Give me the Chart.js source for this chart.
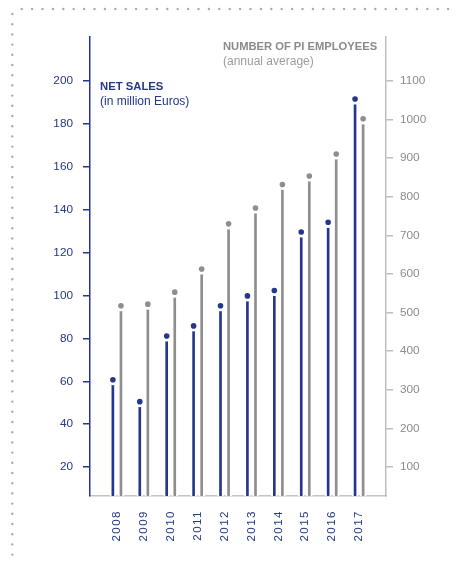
<!DOCTYPE html>
<html>
<head>
<meta charset="utf-8">
<style>
html,body{margin:0;padding:0;background:#fff;}
canvas{display:block;}
</style>
<script src="https://cdn.jsdelivr.net/npm/chart.js@4.4.1/dist/chart.umd.min.js"></script>
</head>
<body>
<canvas id="c" width="458" height="562"></canvas>
<script>
// ---- data ----
const years = ['2008','2009','2010','2011','2012','2013','2014','2015','2016','2017'];
const netSales = [60.7, 50.5, 81.1, 85.8, 95.2, 99.8, 102.3, 129.6, 134.1, 191.6];
const employees = [518, 522, 553, 613, 730, 771, 832, 854, 911, 1002];
const salesTicks = [20, 40, 60, 80, 100, 120, 140, 160, 180, 200];
const employeeTicks = [100, 200, 300, 400, 500, 600, 700, 800, 900, 1000, 1100];
const salesTitle = 'NET SALES';
const salesSubtitle = '(in million Euros)';
const empTitle = 'NUMBER OF PI EMPLOYEES';
const empSubtitle = '(annual average)';

// ---- style ----
const NAVY = '#24378a';
const GRAY = '#8e8e8e';
const LIGHT = '#c4c4c4';
const FONT = "'Liberation Sans', Arial, sans-serif";
const OFF = 0.15;

function stems(vals, sign, axis, color) {
  return {
    type: 'bar', yAxisID: axis, order: 3,
    data: vals.map((v, i) => ({x: i + sign * OFF, y: v})),
    backgroundColor: color, borderColor: '#ffffff',
    borderWidth: {left: 2, right: 2, top: 0, bottom: 0},
    borderSkipped: false, barThickness: 6, grouped: false
  };
}
function dots(vals, sign, axis, color) {
  return {
    type: 'scatter', yAxisID: axis, order: 1, showLine: false,
    data: vals.map((v, i) => ({x: i + sign * OFF, y: v})),
    pointBackgroundColor: color, pointBorderColor: '#ffffff',
    pointRadius: 4.2, pointBorderWidth: 2.8, pointHoverRadius: 4.2
  };
}

const decor = {
  id: 'decor',
  beforeDraw(chart) {
    const ctx = chart.ctx;
    ctx.save();
    ctx.strokeStyle = '#ababab';
    ctx.lineWidth = 2.4;
    ctx.lineCap = 'round';
    ctx.setLineDash([0, 10.4]);
    ctx.beginPath(); ctx.moveTo(21.7, 9); ctx.lineTo(458, 9); ctx.stroke();
    ctx.setLineDash([0, 10.2]);
    ctx.beginPath(); ctx.moveTo(12.3, 14); ctx.lineTo(12.3, 562); ctx.stroke();
    ctx.restore();
  },
  afterDatasetsDraw(chart) {
    // letter spacing for the year labels (x axis labels are drawn after this hook)
    chart.ctx.letterSpacing = '1.5px';
  },
  afterDraw(chart) {
    const ctx = chart.ctx;
    ctx.letterSpacing = '0px';
    ctx.save();
    ctx.textAlign = 'left';
    ctx.textBaseline = 'middle';
    ctx.fillStyle = NAVY;
    ctx.font = "bold 11.3px " + FONT;
    ctx.fillText(salesTitle, 100, 87);
    ctx.font = "12px " + FONT;
    ctx.fillText(salesSubtitle, 100, 102);
    ctx.fillStyle = '#8a8a8a';
    ctx.font = "bold 11.2px " + FONT;
    ctx.fillText(empTitle, 223, 47);
    ctx.fillStyle = '#9c9c9c';
    ctx.font = "12px " + FONT;
    ctx.fillText(empSubtitle, 223, 62);
    ctx.restore();
  }
};

new Chart(document.getElementById('c'), {
  type: 'bar',
  data: {
    datasets: [
      stems(netSales, -1, 'y', NAVY),
      stems(employees, 1, 'y1', GRAY),
      dots(netSales, -1, 'y', NAVY),
      dots(employees, 1, 'y1', GRAY)
    ]
  },
  options: {
    responsive: false,
    animation: false,
    devicePixelRatio: 1,
    layout: {padding: {top: 37, left: 0, right: 0, bottom: 0}},
    plugins: {legend: {display: false}, tooltip: {enabled: false}},
    scales: {
      x: {
        type: 'linear', min: -1, max: 10, offset: false,
        afterFit: s => { s.height = 66; },
        afterBuildTicks: s => { s.ticks = years.map((_, i) => ({value: i})); },
        grid: {display: false, drawTicks: false, offset: false},
        border: {display: true, color: LIGHT, width: 1.5},
        ticks: {
          z: 1, autoSkip: false, minRotation: 90, maxRotation: 90, padding: 14,
          color: NAVY, font: {family: FONT, size: 11.5},
          callback: v => (years[v] !== undefined ? years[v] : '')
        }
      },
      y: {
        position: 'left', min: 6.5, max: 220.5,
        afterFit: s => { s.width = 90; },
        afterBuildTicks: s => { s.ticks = salesTicks.map(v => ({value: v})); },
        grid: {drawOnChartArea: false, drawTicks: true, tickLength: 7, color: NAVY, lineWidth: 1.5},
        border: {display: true, color: NAVY, width: 1.5},
        ticks: {padding: 10, color: NAVY, font: {family: FONT, size: 11.8}, callback: v => String(v)}
      },
      y1: {
        position: 'right', min: 25, max: 1214,
        afterFit: s => { s.width = 72; },
        afterBuildTicks: s => { s.ticks = employeeTicks.map(v => ({value: v})); },
        grid: {drawOnChartArea: false, drawTicks: true, tickLength: 7, color: '#bdbdbd', lineWidth: 1.5},
        border: {display: true, color: '#bdbdbd', width: 1.5},
        ticks: {padding: 7, color: '#8c8c8c', font: {family: FONT, size: 11.8}, callback: v => String(v)}
      }
    }
  },
  plugins: [decor]
});
</script>
</body>
</html>
